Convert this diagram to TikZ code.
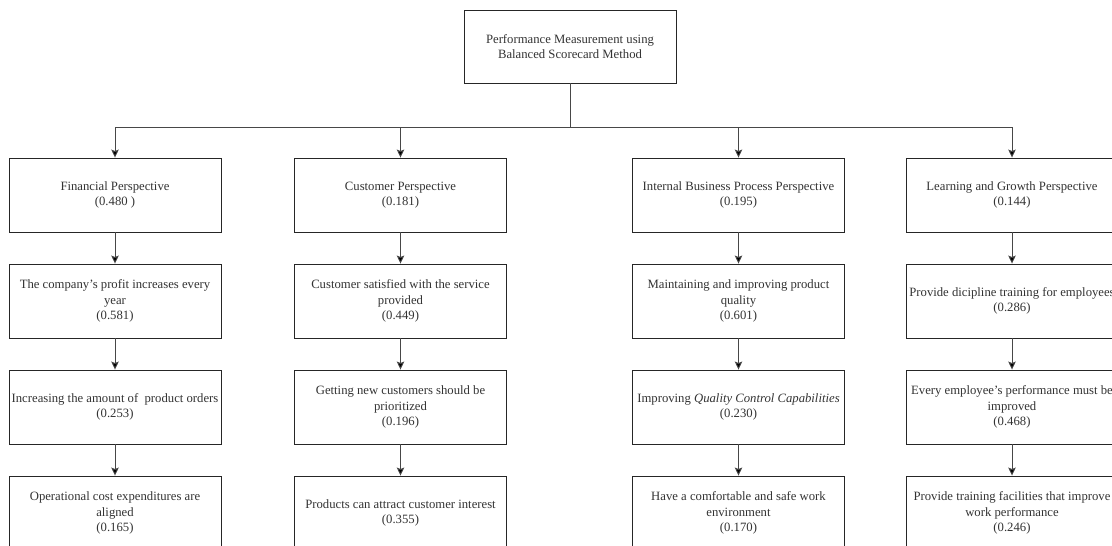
\documentclass[tikz,border=0pt]{standalone}
\usepackage{fontspec}
\setmainfont{Liberation Serif}
\usetikzlibrary{arrows.meta}
\begin{document}
\begin{tikzpicture}[x=1pt,y=-1pt,
  box/.style={draw=black!85, line width=0.9pt, minimum width=212pt, minimum height=74pt,
    align=center, inner sep=0pt, text=black!80, font=\fontsize{12.7}{15.5}\selectfont},
  link/.style={draw=black!72, line width=0.9pt},
  conn/.style={link, -{Stealth[length=8pt,width=7.5pt,inset=1.5pt,fill=black]}}]
\useasboundingbox (0,0) rectangle (1112,546);
\clip (0,0) rectangle (1112,546);
\fill[white] (0,0) rectangle (1112,546);

\node[box, minimum height=73pt] (top) at (570,46.5) {Performance Measurement using\\Balanced Scorecard Method};
\coordinate (hub) at (570,127);

% perspectives
\node[box] (p1) at (115,195) {Financial Perspective\\(0.480 )};
\node[box] (p2) at (400.5,195) {Customer Perspective\\(0.181)};
\node[box] (p3) at (738.5,195) {Internal Business Process Perspective\\(0.195)};
\node[box] (p4) at (1012,195) {Learning and Growth Perspective\\(0.144)};

% row 2
\node[box] (a2) at (115,301) {The company's profit increases every\\year\\(0.581)};
\node[box] (b2) at (400.5,301) {Customer satisfied with the service\\provided\\(0.449)};
\node[box] (c2) at (738.5,301) {Maintaining and improving product\\quality\\(0.601)};
\node[box] (d2) at (1012,301) {Provide dicipline training for employees\\(0.286)};

% row 3
\node[box] (a3) at (115,407) {Increasing the amount of~ product orders\\(0.253)};
\node[box] (b3) at (400.5,407) {Getting new customers should be\\prioritized\\(0.196)};
\node[box] (c3) at (738.5,407) {Improving \textit{Quality Control Capabilities}\\(0.230)};
\node[box] (d3) at (1012,407) {Every employee's performance must be\\improved\\(0.468)};

% row 4
\node[box] (a4) at (115,513) {Operational cost expenditures are\\aligned\\(0.165)};
\node[box] (b4) at (400.5,513) {Products can attract customer interest\\(0.355)};
\node[box] (c4) at (738.5,513) {Have a comfortable and safe work\\environment\\(0.170)};
\node[box] (d4) at (1012,513) {Provide training facilities that improve\\work performance\\(0.246)};

\draw[link] (top.south) -- (hub);
\foreach \p in {p1,p2,p3,p4} \draw[conn] (hub) -| (\p.north);

\foreach \c in {a,b,c,d} {
  \draw[conn] (\c2.north |- p1.south) -- (\c2.north);
  \draw[conn] (\c2.south) -- (\c3.north);
  \draw[conn] (\c3.south) -- (\c4.north);
}
\end{tikzpicture}
\end{document}
